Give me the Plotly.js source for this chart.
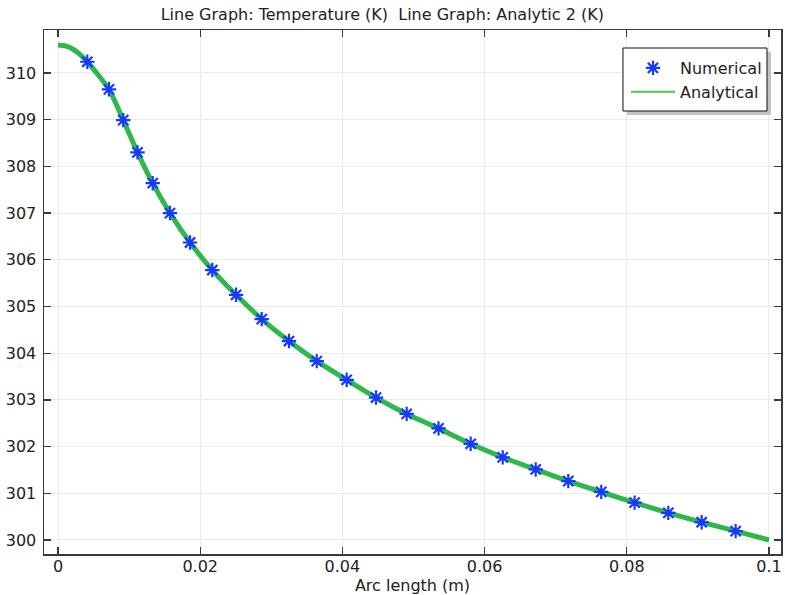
<!DOCTYPE html>
<html>
<head>
<meta charset="utf-8">
<script src="https://cdn.plot.ly/plotly-3.0.1.min.js"></script>
<style>html,body{margin:0;padding:0;background:#fff;}#chart{width:785px;height:595px;}</style>
</head>
<body>
<div id="chart"></div>
<script>
// Numerical (markers)
const numX = [0.00412, 0.00717, 0.00918, 0.01118, 0.01332, 0.01575, 0.01857, 0.02170, 0.02504, 0.02865,
              0.03249, 0.03639, 0.04060, 0.04473, 0.04904, 0.05352, 0.05804, 0.06255, 0.06719, 0.07177,
              0.07641, 0.08110, 0.08584, 0.09053, 0.09531];
const numY = [310.24, 309.65, 308.99, 308.30, 307.64, 307.00, 306.37, 305.78, 305.25, 304.73,
              304.26, 303.83, 303.43, 303.05, 302.70, 302.39, 302.06, 301.77, 301.51, 301.26,
              301.03, 300.80, 300.58, 300.38, 300.19];
// Analytical (line)
const anaX = [0, 0.001, 0.002, 0.003, 0.00412, 0.00717, 0.00918, 0.01118, 0.01332, 0.01575, 0.01857, 0.02170,
              0.02504, 0.02865, 0.03249, 0.03639, 0.04060, 0.04473, 0.04904, 0.05352, 0.05804, 0.06255,
              0.06719, 0.07177, 0.07641, 0.08110, 0.08584, 0.09053, 0.09531, 0.1];
const anaY = [310.60, 310.58, 310.52, 310.41, 310.24, 309.65, 308.99, 308.30, 307.64, 307.00, 306.37, 305.78,
              305.25, 304.73, 304.26, 303.83, 303.43, 303.05, 302.70, 302.39, 302.06, 301.77,
              301.51, 301.26, 301.03, 300.80, 300.58, 300.38, 300.19, 300.00];
const xTicks = [0, 0.02, 0.04, 0.06, 0.08, 0.1];
const xTickText = ['0', '0.02', '0.04', '0.06', '0.08', '0.1'];
const yTicks = [300, 301, 302, 303, 304, 305, 306, 307, 308, 309, 310];

const FONT = 'DejaVu Sans, Verdana, sans-serif';
const FS = 16;

const traces = [
  { // thin copy used only for the legend entry (hidden beneath the thick line)
    x: anaX, y: anaY, type: 'scatter', mode: 'lines', name: 'Analytical',
    line: {color: '#45c850', width: 2, shape: 'spline', smoothing: 0.6},
    legendrank: 2
  },
  {
    x: anaX, y: anaY, type: 'scatter', mode: 'lines', name: 'Analytical',
    line: {color: '#2fb84a', width: 5, shape: 'spline', smoothing: 0.6},
    showlegend: false
  },
  {
    x: numX, y: numY, type: 'scatter', mode: 'markers', name: 'Numerical',
    marker: {symbol: 'asterisk-open', size: 12, color: '#1638ff', line: {color: '#1638ff', width: 2.2}},
    legendrank: 1
  }
];

const axisCommon = {
  showline: true, linecolor: '#3a3a3a', linewidth: 1.5, mirror: 'ticks',
  ticks: 'inside', ticklen: 7, tickwidth: 1.3, tickcolor: '#3a3a3a',
  showgrid: true, gridcolor: '#ebebeb', gridwidth: 1, zeroline: false,
  tickfont: {family: FONT, size: FS, color: '#222'}
};

const layout = {
  width: 785, height: 595,
  margin: {l: 44, r: 4, t: 30, b: 41, pad: 0},
  paper_bgcolor: '#fff', plot_bgcolor: '#fff',
  font: {family: FONT, color: '#222'},
  title: {text: 'Line Graph: Temperature (K)  Line Graph: Analytic 2 (K)',
          font: {family: FONT, size: FS, color: '#222'},
          x: 0.487, xanchor: 'center', y: 0.975, yanchor: 'middle', yref: 'container'},
  xaxis: Object.assign({}, axisCommon, {
    range: [-0.00197, 0.10169], tickvals: xTicks, ticktext: xTickText,
    ticklabelstandoff: -3,
    title: {text: 'Arc length (m)', font: {family: FONT, size: FS, color: '#222'}, standoff: 2}
  }),
  yaxis: Object.assign({}, axisCommon, {
    range: [299.70, 310.92], tickvals: yTicks, ticklabelstandoff: 3
  }),
  showlegend: true,
  legend: {
    x: 0.981, xanchor: 'right', y: 0.9599, yanchor: 'top',
    bgcolor: 'rgba(0,0,0,0)', bordercolor: 'rgba(0,0,0,0)', borderwidth: 0,
    font: {family: FONT, size: FS, color: '#222'},
    itemwidth: 44,
    traceorder: 'normal'
  },
  shapes: []
};

Plotly.newPlot('chart', traces, layout, {staticPlot: true, displayModeBar: false}).then(function (gd) {
  // legend frame and drop shadow drawn as shapes behind the legend entries
  const bg = gd.querySelector('.legend .bg');
  if (!bg) return;
  const lb = bg.getBoundingClientRect();
  const cb = gd.getBoundingClientRect();
  const fl = gd._fullLayout;
  const bx0 = lb.left - cb.left - 3, bx1 = lb.right - cb.left;
  const by0 = lb.top - cb.top - 3, by1 = lb.bottom - cb.top + 2;
  const toPX = function (p) { return (p - fl._size.l) / fl._size.w; };
  const toPY = function (p) { return 1 - (p - fl._size.t) / fl._size.h; };
  const off = 4;
  Plotly.relayout(gd, {shapes: [
    {type: 'rect', xref: 'paper', yref: 'paper', layer: 'above',
     x0: toPX(bx0 + off), x1: toPX(bx1 + off), y0: toPY(by1 + off), y1: toPY(by0 + off),
     fillcolor: '#c2c2c2', line: {width: 0}},
    {type: 'rect', xref: 'paper', yref: 'paper', layer: 'above',
     x0: toPX(bx0), x1: toPX(bx1), y0: toPY(by1), y1: toPY(by0),
     fillcolor: '#ffffff', line: {color: '#111', width: 1}}
  ]});
});
</script>
</body>
</html>
